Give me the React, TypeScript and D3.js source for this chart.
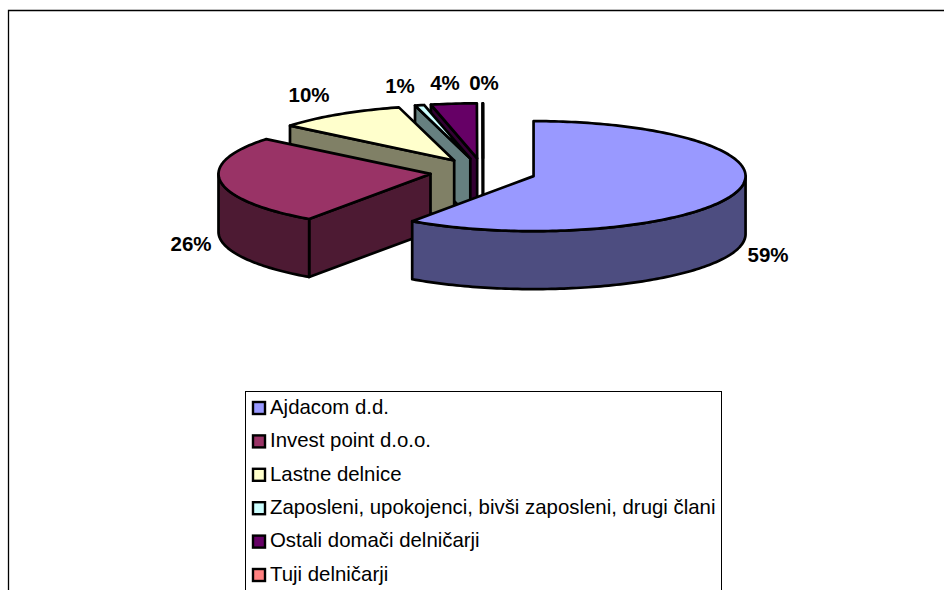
import React from "react";
import * as d3 from "d3";

const categories = ["Ajdacom d.d.", "Invest point d.o.o.", "Lastne delnice", "Zaposleni, upokojenci, bivši zaposleni, drugi člani", "Ostali domači delničarji", "Tuji delničarji"];
const shares = [59.7, 26.2, 9.9, 0.7, 3.48, 0.02];
const shareLabels = ["59%", "26%", "10%", "1%", "4%", "0%"];
const topColors = ["#9999FF", "#993366", "#FFFFCC", "#CCFFFF", "#660066", "#FF8080"];
const wallColors = ["#4D4D80", "#4D1A33", "#808066", "#668080", "#330033", "#804040"];
const labelAnchors: [number, number][] = [[768, 256.5], [191, 245.5], [309, 96.5], [400, 87.5], [445, 84.5], [484, 84.5]];

const W = 944, H = 590;
const cx = 483, cy = 172, rx = 212, ry = 55, depth = 58, explode = 53;

const pieGen = d3.pie<number>().sort(null).value((d) => d);
const arcs = pieGen(shares);
const line = d3.line<[number, number]>();

function pt(c: [number, number], a: number, dy = 0): [number, number] {
  return [c[0] + rx * Math.sin(a), c[1] - ry * Math.cos(a) + dy];
}
function arcPts(c: [number, number], a0: number, a1: number, dy = 0): [number, number][] {
  const n = Math.max(2, Math.ceil((a1 - a0) / 0.02));
  return d3.range(n + 1).map((i) => pt(c, a0 + ((a1 - a0) * i) / n, dy));
}

function Slice({ i }: { i: number }) {
  const { startAngle: a0, endAngle: a1 } = arcs[i];
  const mid = (a0 + a1) / 2;
  const c: [number, number] = [cx + explode * Math.sin(mid), cy - (explode * ry * Math.cos(mid)) / rx];
  const lo = Math.max(a0, Math.PI / 2), hi = Math.min(a1, (3 * Math.PI) / 2);
  const below: [number, number] = [c[0], c[1] + depth];
  const sw = { stroke: "#000", strokeWidth: 2.7, strokeLinejoin: "round" as const };
  return (
    <g>
      {-Math.cos(a0 - Math.PI / 2) > 0 && (
        <path d={line([pt(c, a0), c, below, pt(c, a0, depth)])! + "Z"} fill={wallColors[i]} {...sw} />
      )}
      {-Math.cos(a1 + Math.PI / 2) > 0 && (
        <path d={line([pt(c, a1), c, below, pt(c, a1, depth)])! + "Z"} fill={wallColors[i]} {...sw} />
      )}
      {hi > lo && (
        <path d={line([...arcPts(c, lo, hi), ...arcPts(c, lo, hi, depth).reverse()])! + "Z"} fill={wallColors[i]} {...sw} />
      )}
      <path d={line([c, ...arcPts(c, a0, a1)])! + "Z"} fill={topColors[i]} {...sw} />
    </g>
  );
}

const legendY = d3.scalePoint<string>().domain(categories).range([408, 575]);
const font = "'Liberation Sans', Arial, sans-serif";

export default function App() {
  const order = d3.range(shares.length).reverse();
  return (
    <svg width={W} height={H} viewBox={`0 0 ${W} ${H}`} style={{ position: "fixed", left: 0, top: 0, background: "#fff" }}>
      <path d={`M8.5 ${H}V10.5H${W}`} fill="none" stroke="#000" strokeWidth={1.3} />
      {order.map((i) => <Slice key={i} i={i} />)}
      {shareLabels.map((t, i) => (
        <text key={t} x={labelAnchors[i][0]} y={labelAnchors[i][1]} textAnchor="middle" dominantBaseline="middle" fontFamily={font} fontWeight="bold" fontSize={20.5} fill="#000">{t}</text>
      ))}
      <rect x={245.5} y={391.5} width={476} height={H} fill="#fff" stroke="#000" strokeWidth={1} />
      {categories.map((c, i) => (
        <g key={c}>
          <rect x={253} y={legendY(c)! - 6} width={12} height={12} fill={topColors[i]} stroke="#000" strokeWidth={2.4} />
          <text x={270} y={legendY(c)! + 0.5} dominantBaseline="middle" fontFamily={font} fontSize={20.4} fill="#000">{c}</text>
        </g>
      ))}
    </svg>
  );
}
